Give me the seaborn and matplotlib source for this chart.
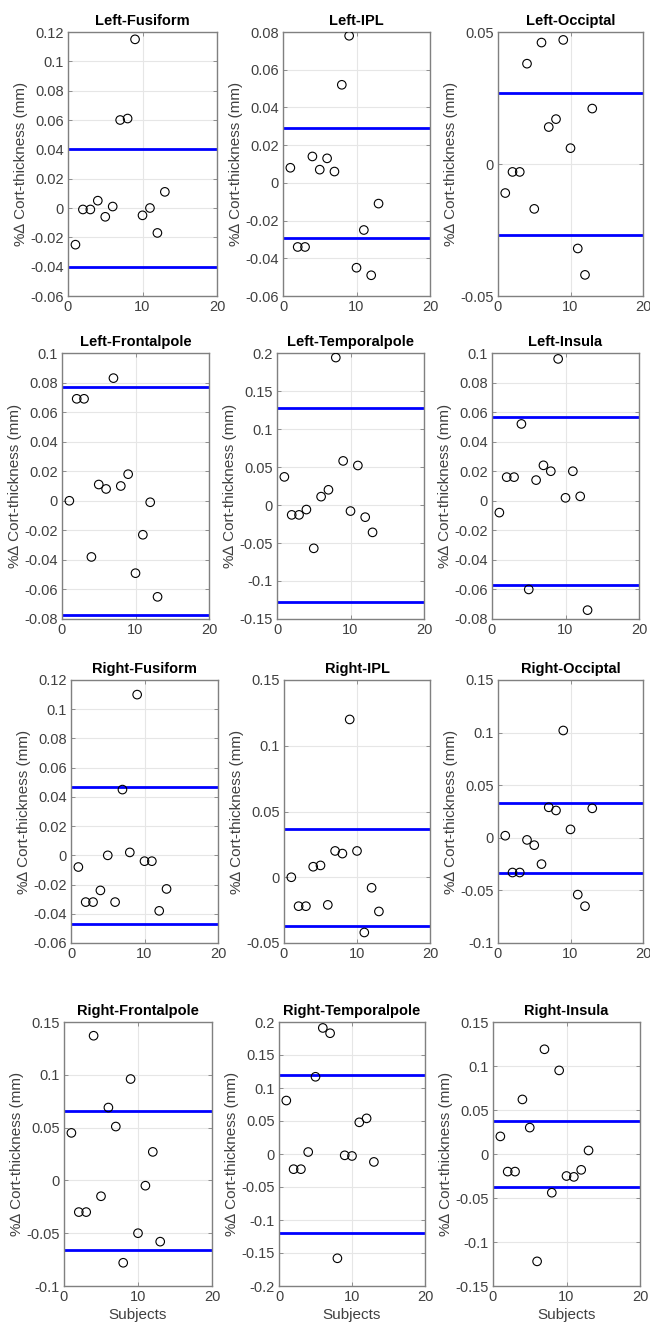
import numpy as np
import pandas as pd
import matplotlib
matplotlib.use("Agg")
import matplotlib.pyplot as plt
import seaborn as sns

subjects = list(range(1, 14))

regions = ["Left-Fusiform", "Left-IPL", "Left-Occiptal",
           "Left-Frontalpole", "Left-Temporalpole", "Left-Insula",
           "Right-Fusiform", "Right-IPL", "Right-Occiptal",
           "Right-Frontalpole", "Right-Temporalpole", "Right-Insula"]

left_fusiform = [-0.025, -0.001, -0.001, 0.005, -0.006, 0.001, 0.060, 0.061, 0.115, -0.005, 0.000, -0.017, 0.011]
left_ipl = [0.008, -0.034, -0.034, 0.014, 0.007, 0.013, 0.006, 0.052, 0.078, -0.045, -0.025, -0.049, -0.011]
left_occiptal = [-0.011, -0.003, -0.003, 0.038, -0.017, 0.046, 0.014, 0.017, 0.047, 0.006, -0.032, -0.042, 0.021]
left_frontalpole = [0.000, 0.069, 0.069, -0.038, 0.011, 0.008, 0.083, 0.010, 0.018, -0.049, -0.023, -0.001, -0.065]
left_temporalpole = [0.037, -0.013, -0.013, -0.006, -0.057, 0.011, 0.020, 0.194, 0.058, -0.008, 0.052, -0.016, -0.036]
left_insula = [-0.008, 0.016, 0.016, 0.052, -0.060, 0.014, 0.024, 0.020, 0.096, 0.002, 0.020, 0.003, -0.074]
right_fusiform = [-0.008, -0.032, -0.032, -0.024, 0.000, -0.032, 0.045, 0.002, 0.110, -0.004, -0.004, -0.038, -0.023]
right_ipl = [0.000, -0.022, -0.022, 0.008, 0.009, -0.021, 0.020, 0.018, 0.120, 0.020, -0.042, -0.008, -0.026]
right_occiptal = [0.002, -0.033, -0.033, -0.002, -0.007, -0.025, 0.029, 0.026, 0.102, 0.008, -0.054, -0.065, 0.028]
right_frontalpole = [0.045, -0.030, -0.030, 0.137, -0.015, 0.069, 0.051, -0.078, 0.096, -0.050, -0.005, 0.027, -0.058]
right_temporalpole = [0.081, -0.023, -0.023, 0.003, 0.117, 0.191, 0.183, -0.158, -0.002, -0.003, 0.048, 0.054, -0.012]
right_insula = [0.020, -0.020, -0.020, 0.062, 0.030, -0.122, 0.119, -0.044, 0.095, -0.025, -0.026, -0.018, 0.004]

values = [left_fusiform, left_ipl, left_occiptal,
          left_frontalpole, left_temporalpole, left_insula,
          right_fusiform, right_ipl, right_occiptal,
          right_frontalpole, right_temporalpole, right_insula]

# threshold lines (+/-)
thresholds = [0.040, 0.029, 0.027,
              0.077, 0.128, 0.057,
              0.047, 0.037, 0.033,
              0.066, 0.119, 0.038]

ylims = [(-0.06, 0.12), (-0.06, 0.08), (-0.05, 0.05),
         (-0.08, 0.10), (-0.15, 0.20), (-0.08, 0.10),
         (-0.06, 0.12), (-0.05, 0.15), (-0.10, 0.15),
         (-0.10, 0.15), (-0.20, 0.20), (-0.15, 0.15)]
ysteps = [0.02, 0.02, 0.05,
          0.02, 0.05, 0.02,
          0.02, 0.05, 0.05,
          0.05, 0.05, 0.05]
xticks = [0, 10, 20]

sns.set_style("whitegrid")
plt.rcParams['font.family'] = ['Liberation Sans', 'DejaVu Sans']

W, H = 650, 1328
fig = plt.figure(figsize=(W / 100, H / 100), dpi=100)

# axes pixel boxes (left, top, right, bottom)
boxes = [
    (68, 32, 217, 296), (283, 32, 430, 296), (498, 32, 643, 296),
    (62, 353, 209, 619), (277, 353, 424, 619), (492, 353, 639, 619),
    (71, 680, 218, 943), (284, 680, 430, 943), (498, 680, 643, 943),
    (64, 1022, 212, 1286), (279, 1022, 425, 1286), (493, 1022, 640, 1286),
]

def fmt(v):
    if abs(v) < 1e-9:
        return "0"
    s = ("%.2f" % v).rstrip("0").rstrip(".")
    return s

for i, (name, vals) in enumerate(zip(regions, values)):
    l, t, r, b = boxes[i]
    ax = fig.add_axes([l / W, 1 - b / H, (r - l) / W, (b - t) / H])
    df = pd.DataFrame({"Subjects": subjects, "val": vals})
    sns.scatterplot(data=df, x="Subjects", y="val", ax=ax, marker="o",
                    s=38, facecolors="none", edgecolor="black", linewidth=0.8,
                    zorder=3)
    th = thresholds[i]
    ax.axhline(th, color="#0000ff", lw=2, zorder=2)
    ax.axhline(-th, color="#0000ff", lw=2, zorder=2)
    lo, hi = ylims[i]
    ax.set_ylim(lo, hi)
    ax.set_xlim(0, 20)
    st = ysteps[i]
    n = int(round((hi - lo) / st))
    yt = [lo + k * st for k in range(n + 1)]
    ax.set_yticks(yt)
    ax.set_yticklabels([fmt(v) for v in yt])
    ax.set_xticks(xticks)
    ax.set_xticklabels([str(v) for v in xticks])
    ax.grid(True, color="#e6e6e6", lw=0.8)
    ax.set_axisbelow(True)
    for sp in ax.spines.values():
        sp.set_visible(True)
        sp.set_color("#808080")
        sp.set_linewidth(1.0)
    ax.tick_params(direction="in", length=3, width=0.6, colors="#808080",
                   labelcolor="#404040", labelsize=10.5, top=True, right=True,
                   left=True, bottom=True, pad=3)
    ax.set_title(name, fontsize=10.5, fontweight="bold", color="black", pad=5)
    ax.set_ylabel("%\u2206 Cort-thickness (mm)", fontsize=11, color="#404040", labelpad=2)
    if i >= 9:
        ax.set_xlabel("Subjects", fontsize=11, color="#404040", labelpad=3)
    else:
        ax.set_xlabel("")

fig.savefig("out.png", dpi=100, facecolor="white")
